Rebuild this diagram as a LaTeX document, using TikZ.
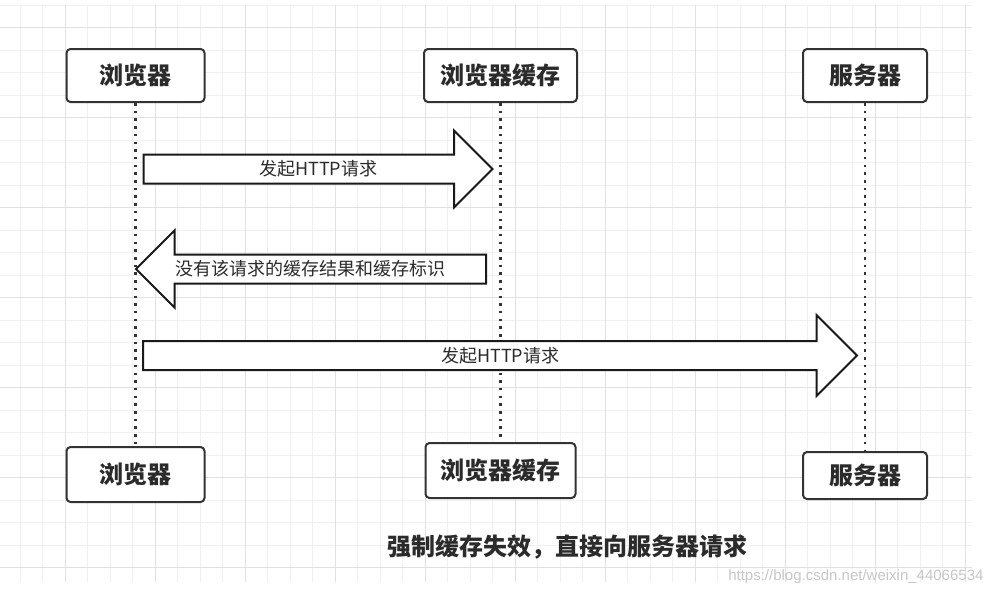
\documentclass[tikz,border=0pt]{standalone}
\usepackage{fontspec}
\setmainfont{Liberation Sans}
\newfontfamily\cjk{Noto Sans CJK SC}
\definecolor{gridlight}{HTML}{F0F0F0}
\definecolor{griddark}{HTML}{E1E1E1}
\definecolor{boxgray}{HTML}{333333}
\definecolor{textgray}{HTML}{2B2B2B}
\usetikzlibrary{shapes.arrows, positioning, calc}

\begin{document}
\begin{tikzpicture}[x=1pt, y=-1pt,
    box/.style={draw=boxgray, line width=2pt, rounded corners=4pt, fill=white,
      text=textgray, inner sep=0pt, font=\cjk\bfseries\fontsize{24}{28}\selectfont},
    lifeline/.style={line width=2.5pt, dash pattern=on 2.5pt off 5.2pt, boxgray},
    msg/.style={single arrow, draw=black!90, line width=2pt, fill=white, anchor=tail,
      single arrow head extend=24pt, inner sep=0pt, text height=20pt, text depth=7pt},
    msgtext/.style={text=textgray, inner sep=0pt, font=\cjk\fontsize{18}{21}\selectfont}]
    \fill[white] (0,0) rectangle (993,592);
    \useasboundingbox (0,0) rectangle (993,592);
    \foreach \k in {0,...,42}
      \draw[gridlight, line width=1pt] ({20+22.5*\k},5) -- ({20+22.5*\k},582);
    \foreach \k in {0,...,25}
      \draw[gridlight, line width=1pt] (0,{5+22.5*\k}) -- (972,{5+22.5*\k});
    \foreach \k in {0,...,10}
      \draw[griddark, line width=1pt] ({65+90*\k},5) -- ({65+90*\k},582);
    \foreach \k in {0,...,6}
      \draw[griddark, line width=1pt] (0,{27.5+90*\k}) -- (972,{27.5+90*\k});
    \foreach \name/\xpos/\ypos/\bw/\bh/\lab in {%
      browsertop/135.5/75.5/138/53/{浏览器},
      cachetop/500.5/75.5/153/53/{浏览器缓存},
      servertop/865/75.5/124/53/{服务器},
      browserbot/135.5/474.5/138/55/{浏览器},
      cachebot/500.5/470.5/150/55/{浏览器缓存},
      serverbot/865/475.5/124/47/{服务器}}{%
      \node[box, minimum width=\bw pt, minimum height=\bh pt] (\name) at (\xpos,\ypos) {\lab};
    }
    \draw[lifeline] (browsertop) -- (browserbot);
    \draw[lifeline] (cachetop) -- (cachebot);
    \draw[lifeline] (servertop) -- (serverbot);
    \node[msg, minimum height=349pt, minimum width=76pt] (request) at (142.5,169) {};
    \node[msg, minimum height=350pt, minimum width=76pt, shape border rotate=180] (nocache) at (487,269) {};
    \node[msg, minimum height=714pt, minimum width=81pt, single arrow head extend=26pt] (forward) at (142,355.5) {};
    \node[msgtext] (requestlab) at ($(request.tail)!.5!(request.tip)$) {发起HTTP请求};
    \node[msgtext] (nocachelab) at ($(nocache.tail)!.5!(nocache.tip)$) {没有该请求的缓存结果和缓存标识};
    \node[msgtext] (forwardlab) at ($(forward.tail)!.5!(forward.tip)$) {发起HTTP请求};
    \node[text=textgray, font=\cjk\bfseries\fontsize{24}{28}\selectfont] (caption) at (567.5,547) {强制缓存失效，直接向服务器请求};
    \node[anchor=east, text=black!22, font=\fontsize{15}{17}\selectfont] (mark) at (987,577) {https://blog.csdn.net/weixin\_44066534};
  \end{tikzpicture}
\end{document}
